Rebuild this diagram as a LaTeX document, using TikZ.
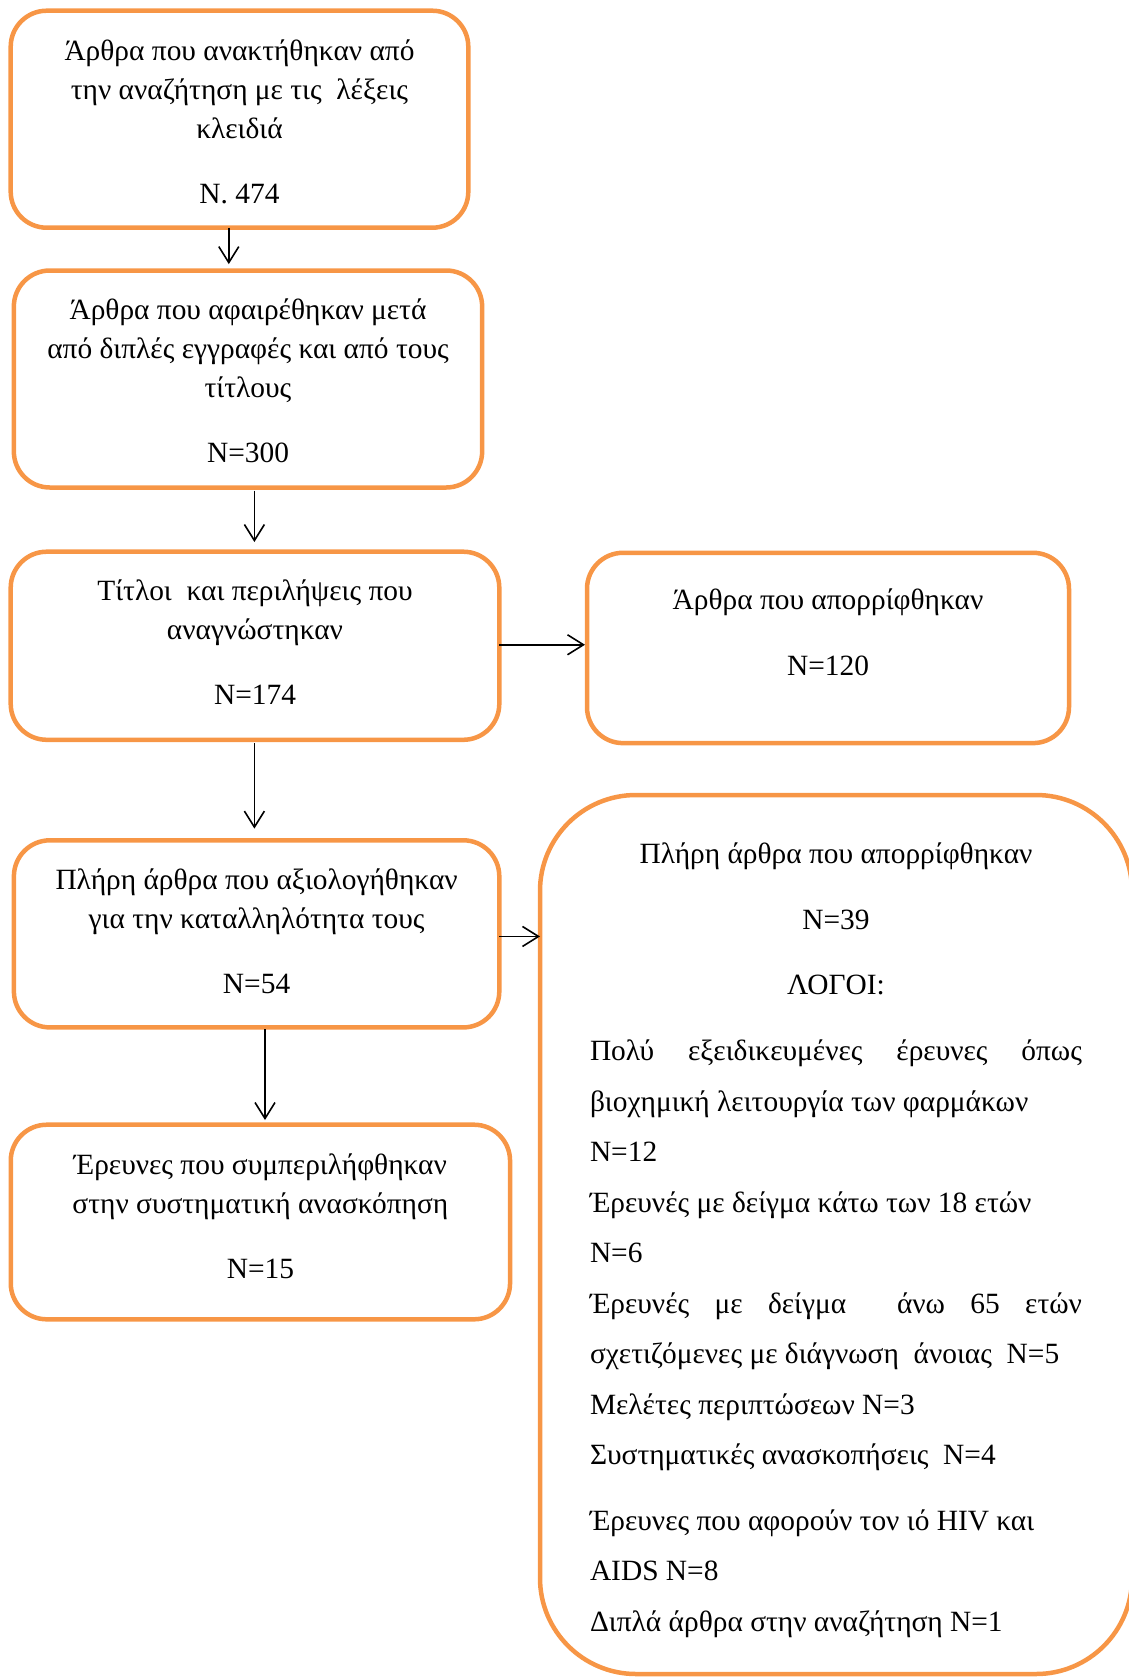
\documentclass[tikz,border=0pt]{standalone}
\usepackage{fontspec}
\setmainfont{Liberation Serif}
\usepackage{xcolor}
\usepackage{tikz}
\usetikzlibrary{arrows.meta, positioning}
\definecolor{boxorange}{HTML}{F79646}
\tikzstyle{stage} = [rectangle, rounded corners=18pt, draw=boxorange, line width=2.25pt, outer sep=0pt, align=flush center, font=\fontsize{14.7}{19.5}\selectfont]
\tikzstyle{arrow} = [line width=0.8pt, -{Straight Barb[length=8pt,width=10pt]}]
\newcommand{\reasonfull}[1]{\makebox[246pt][s]{#1}}
\newcommand{\reasonleft}[1]{\makebox[246pt][l]{#1}}

\begin{document}
\begin{tikzpicture}
   \useasboundingbox (0,0) rectangle (564.5pt,-838.5pt);
   \node (found) [stage, minimum width=228.8pt, minimum height=108.5pt] at (119.75pt,-59.6pt) {\rule{0pt}{13pt}Άρθρα που ανακτήθηκαν από\\ την αναζήτηση με τις~ λέξεις\\ κλειδιά\\[13pt] N. 474};
   \node (kept) [stage, minimum width=234.15pt, minimum height=108.5pt, below=21.4pt of found, xshift=4.25pt] {\rule{0pt}{12pt}Άρθρα που αφαιρέθηκαν μετά\\ από διπλές εγγραφές και από τους\\ τίτλους\\[13pt] N=300};
   \node (read) [stage, minimum width=244.3pt, minimum height=94.05pt, text depth=3.2pt, below=32.1pt of kept, xshift=3.5pt] {Τίτλοι~ και περιλήψεις που\\ αναγνώστηκαν\\[13pt] N=174};
   \node (rej) [stage, minimum width=241pt, minimum height=95.15pt, right=43.85pt of read, yshift=-1.1pt] {Άρθρα που απορρίφθηκαν\\[13.5pt] N=120\\[-4pt]\mbox{}};
   \node (full) [stage, minimum width=242.7pt, minimum height=93.55pt, text depth=3.2pt, below=50.25pt of read, xshift=0.8pt] {Πλήρη άρθρα που αξιολογήθηκαν\\ για την καταλληλότητα τους\\[13pt] N=54};
   \node (incl) [stage, minimum width=249.65pt, minimum height=97.3pt, text depth=5.4pt, below=48.65pt of full, xshift=1.9pt] {Έρευνες που συμπεριλήφθηκαν\\ στην συστηματική ανασκόπηση\\[13pt] N=15};
   \node (fullrej) [stage, rounded corners=48pt, minimum width=296pt, minimum height=439.5pt, text width=246pt, font=\fontsize{14.7}{25.25}\selectfont, right=20.35pt of full.north east, anchor=north west, yshift=22.65pt] {\rule{0pt}{16pt}Πλήρη άρθρα που απορρίφθηκαν\\[7.5pt] N=39\\[7.5pt] ΛΟΓΟΙ:\\[7.75pt]
      \reasonfull{Πολύ εξειδικευμένες έρευνες όπως}\\
      \reasonleft{βιοχημική λειτουργία των φαρμάκων}\\
      \reasonleft{N=12}\\
      \reasonleft{Έρευνές με δείγμα κάτω των 18 ετών}\\
      \reasonleft{N=6}\\
      \reasonfull{Έρευνές με δείγμα~ άνω 65 ετών}\\
      \reasonleft{σχετιζόμενες με διάγνωση~ άνοιας~ N=5}\\
      \reasonleft{Μελέτες περιπτώσεων N=3}\\
      \reasonleft{Συστηματικές ανασκοπήσεις~ N=4}\\[7.5pt]
      \reasonleft{Έρευνες που αφορούν τον ιό HIV και}\\
      \reasonleft{AIDS N=8}\\
      \reasonleft{Διπλά άρθρα στην αναζήτηση N=1}};
   \draw [arrow, shorten >=3.2pt] ([xshift=-5.35pt]found.south) -- ([xshift=-5.35pt]found.south |- kept.north);
   \draw [arrow, shorten <=1.6pt, shorten >=4.85pt] ([xshift=3.2pt]kept.south) -- ([xshift=3.2pt]kept.south |- read.north);
   \draw [arrow, shorten <=1.6pt, shorten >=5.85pt] ([xshift=-0.3pt]read.south) -- ([xshift=-0.3pt]read.south |- full.north);
   \draw [arrow, shorten <=1pt, shorten >=2.35pt] ([xshift=4.2pt]full.south) -- ([xshift=4.2pt]full.south |- incl.north);
   \draw [arrow, shorten >=1pt] ([yshift=0.5pt]read.east) -- ([yshift=0.5pt]read.east -| rej.west);
   \draw [arrow] ([yshift=-1.3pt]full.east) -- ([yshift=-1.3pt]full.east -| fullrej.west);
\end{tikzpicture}
\end{document}
